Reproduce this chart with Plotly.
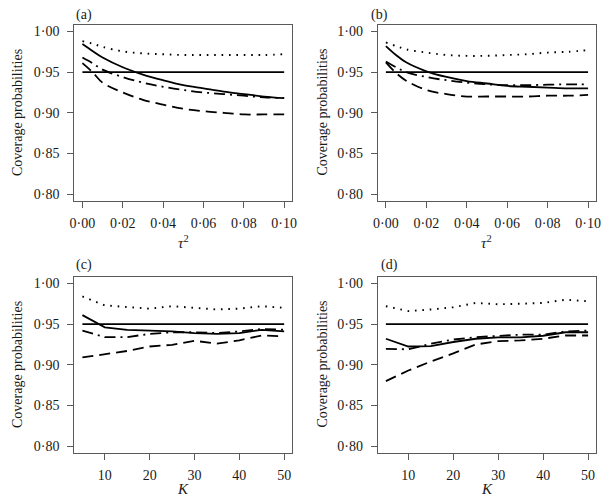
import plotly.graph_objects as go

# ---------------- data ----------------
tau2 = [0.0, 0.005, 0.01, 0.02, 0.03, 0.04, 0.05, 0.06, 0.07, 0.08, 0.09, 0.10]
K = [5, 10, 15, 20, 25, 30, 35, 40, 45, 50]
nominal = 0.95

a_solid   = [0.9845, 0.976, 0.968, 0.956, 0.947, 0.940, 0.934, 0.930, 0.926, 0.923, 0.920, 0.918]
a_dotted  = [0.988, 0.985, 0.981, 0.9755, 0.973, 0.972, 0.971, 0.971, 0.971, 0.971, 0.971, 0.972]
a_dashdot = [0.968, 0.961, 0.953, 0.944, 0.937, 0.932, 0.928, 0.925, 0.923, 0.921, 0.919, 0.918]
a_dashed  = [0.961, 0.950, 0.937, 0.925, 0.916, 0.910, 0.905, 0.902, 0.900, 0.898, 0.898, 0.898]

b_solid   = [0.982, 0.971, 0.962, 0.951, 0.944, 0.939, 0.936, 0.933, 0.932, 0.931, 0.930, 0.930]
b_dotted  = [0.9865, 0.982, 0.978, 0.974, 0.971, 0.970, 0.970, 0.971, 0.972, 0.974, 0.975, 0.977]
b_dashdot = [0.963, 0.956, 0.950, 0.944, 0.940, 0.937, 0.935, 0.934, 0.934, 0.9345, 0.935, 0.935]
b_dashed  = [0.962, 0.949, 0.9395, 0.928, 0.923, 0.920, 0.920, 0.920, 0.920, 0.921, 0.921, 0.922]

c_solid   = [0.961, 0.946, 0.943, 0.942, 0.941, 0.939, 0.938, 0.939, 0.943, 0.941]
c_dotted  = [0.984, 0.973, 0.971, 0.969, 0.972, 0.970, 0.968, 0.969, 0.972, 0.970]
c_dashdot = [0.942, 0.934, 0.934, 0.938, 0.940, 0.940, 0.939, 0.941, 0.944, 0.943]
c_dashed  = [0.909, 0.913, 0.917, 0.9225, 0.9245, 0.9295, 0.926, 0.930, 0.936, 0.935]

d_solid   = [0.932, 0.9225, 0.923, 0.928, 0.932, 0.9336, 0.9336, 0.9357, 0.940, 0.940]
d_dotted  = [0.972, 0.966, 0.968, 0.9707, 0.976, 0.9744, 0.975, 0.976, 0.980, 0.978]
d_dashdot = [0.9196, 0.919, 0.926, 0.931, 0.934, 0.9357, 0.937, 0.937, 0.941, 0.942]
d_dashed  = [0.880, 0.893, 0.904, 0.914, 0.925, 0.929, 0.930, 0.932, 0.936, 0.936]

y_tickvals = [0.80, 0.85, 0.90, 0.95, 1.00]
y_ticktext = ["0·80", "0·85", "0·90", "0·95", "1·00"]
tau_tickvals = [0.0, 0.02, 0.04, 0.06, 0.08, 0.10]
tau_ticktext = ["0·00", "0·02", "0·04", "0·06", "0·08", "0·10"]
K_tickvals = [10, 20, 30, 40, 50]
K_ticktext = ["10", "20", "30", "40", "50"]

panel_labels = ["(a)", "(b)", "(c)", "(d)"]
y_title = "Coverage probabilities"

# ---------------- styling ----------------
FONT = "Liberation Serif"
FRAME = "#5a5a5a"
DOT = "1.6px,5.8px"
DASH = "11px,6px"
DASHDOT = "11px,5px,2px,5px"

fig = go.Figure()

panels = [
    (tau2, a_solid, a_dotted, a_dashdot, a_dashed, "x", "y"),
    (tau2, b_solid, b_dotted, b_dashdot, b_dashed, "x2", "y2"),
    (K, c_solid, c_dotted, c_dashdot, c_dashed, "x3", "y3"),
    (K, d_solid, d_dotted, d_dashdot, d_dashed, "x4", "y4"),
]

for i, (xs, s, dt, dd, ds, xa, ya) in enumerate(panels):
    shape = "spline" if i < 2 else "linear"
    fig.add_trace(go.Scatter(x=[xs[0], xs[-1]], y=[nominal, nominal], mode="lines",
                             line=dict(color="black", width=1.7), xaxis=xa, yaxis=ya))
    fig.add_trace(go.Scatter(x=xs, y=dt, mode="lines",
                             line=dict(color="black", width=1.9, dash=DOT, shape=shape),
                             xaxis=xa, yaxis=ya))
    fig.add_trace(go.Scatter(x=xs, y=dd, mode="lines",
                             line=dict(color="black", width=1.8, dash=DASHDOT, shape=shape),
                             xaxis=xa, yaxis=ya))
    fig.add_trace(go.Scatter(x=xs, y=ds, mode="lines",
                             line=dict(color="black", width=1.8, dash=DASH, shape=shape),
                             xaxis=xa, yaxis=ya))
    fig.add_trace(go.Scatter(x=xs, y=s, mode="lines",
                             line=dict(color="black", width=1.8, shape=shape),
                             xaxis=xa, yaxis=ya))

W, H = 611, 504
left_dom = [70.5 / W, 292 / W]
right_dom = [379 / W, 601 / W]
top_dom = [1 - 200.5 / H, 1 - 24 / H]
bot_dom = [1 - 453.5 / H, 1 - 277 / H]

common = dict(showline=True, linecolor=FRAME, linewidth=1, mirror=True,
              ticks="outside", ticklen=6, tickwidth=1, tickcolor=FRAME,
              showgrid=False, zeroline=False,
              tickfont=dict(family=FONT, size=14, color="#1a1a1a"))

yr = [0.792, 1.008]
tr = [-0.004, 0.104]
kr = [3.2, 51.8]

layout_axes = {}
specs = [
    ("xaxis", "yaxis", "x", "y", left_dom, top_dom, tr, tau_tickvals, tau_ticktext),
    ("xaxis2", "yaxis2", "x2", "y2", right_dom, top_dom, tr, tau_tickvals, tau_ticktext),
    ("xaxis3", "yaxis3", "x3", "y3", left_dom, bot_dom, kr, K_tickvals, K_ticktext),
    ("xaxis4", "yaxis4", "x4", "y4", right_dom, bot_dom, kr, K_tickvals, K_ticktext),
]
for xk, yk, xid, yid, xd, yd, xr, tv, tt in specs:
    layout_axes[xk] = dict(common, domain=xd, anchor=yid, range=xr,
                           tickmode="array", tickvals=tv, ticktext=tt, ticklabelstandoff=3)
    layout_axes[yk] = dict(common, domain=yd, anchor=xid, range=yr,
                           tickmode="array", tickvals=y_tickvals, ticktext=y_ticktext,
                           ticklabelstandoff=5)

fig.update_layout(**layout_axes)

ann = []
# panel labels
for lab, px, py in zip(panel_labels, [70, 370, 70, 380], [14, 14, 265, 265]):
    ann.append(dict(text=lab, x=px / W, y=1 - py / H, xref="paper", yref="paper",
                    xanchor="left", yanchor="middle", showarrow=False,
                    font=dict(family=FONT, size=14, color="#1a1a1a")))
# y titles
for px, py in [(12.7, 112), (323.3, 112), (12.7, 365), (323.3, 365)]:
    ann.append(dict(text=y_title, x=px / W, y=1 - py / H, xref="paper", yref="paper",
                    xanchor="center", yanchor="middle", textangle=-90, showarrow=False,
                    font=dict(family=FONT, size=14, color="#1a1a1a")))
# x titles
for txt, px, py in [("<i>τ</i><sup>2</sup>", 181, 242), ("<i>τ</i><sup>2</sup>", 490, 242),
                    ("<i>K</i>", 181, 490), ("<i>K</i>", 490, 490)]:
    ann.append(dict(text=txt, x=px / W, y=1 - py / H, xref="paper", yref="paper",
                    xanchor="center", yanchor="middle", showarrow=False,
                    font=dict(family=FONT, size=15, color="#1a1a1a")))

fig.update_layout(width=W, height=H, margin=dict(l=0, r=0, t=0, b=0),
                  paper_bgcolor="white", plot_bgcolor="white",
                  showlegend=False, annotations=ann)

fig.write_html("out.html", config={"displayModeBar": False},
               post_script="document.body.style.margin='0';document.body.style.overflow='hidden';")
